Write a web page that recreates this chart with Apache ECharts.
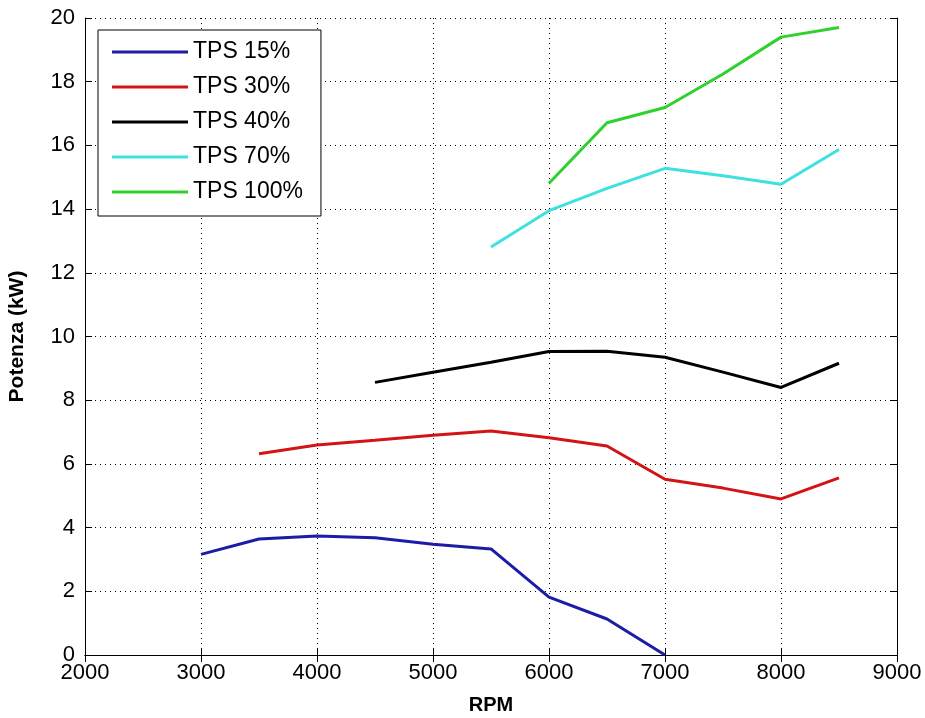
<!DOCTYPE html>
<html>
<head>
<meta charset="utf-8">
<script src="https://cdn.jsdelivr.net/npm/echarts@6/dist/echarts.min.js"></script>
<style>
  html, body { margin: 0; padding: 0; background: #fff; }
  #main { width: 925px; height: 718px; }
</style>
</head>
<body>
<div id="main"></div>
<script>
  // dati (RPM, kW)
  var tps15 = [[3000, 3.16], [3500, 3.64], [4000, 3.74], [4500, 3.68], [5000, 3.48], [5500, 3.33], [6000, 1.82], [6500, 1.13], [7000, 0]];
  var tps30 = [[3500, 6.32], [4000, 6.59], [4500, 6.74], [5000, 6.9], [5500, 7.03], [6000, 6.82], [6500, 6.56], [7000, 5.52], [7500, 5.24], [8000, 4.9], [8500, 5.56]];
  var tps40 = [[4500, 8.56], [5000, 8.88], [5500, 9.19], [6000, 9.53], [6500, 9.54], [7000, 9.35], [7500, 8.88], [8000, 8.4], [8500, 9.16]];
  var tps70 = [[5500, 12.81], [6000, 13.95], [6500, 14.65], [7000, 15.28], [7500, 15.05], [8000, 14.78], [8500, 15.87]];
  var tps100 = [[6000, 14.81], [6500, 16.71], [7000, 17.19], [7500, 18.24], [8000, 19.4], [8500, 19.7]];

  var nomi = ['TPS 15%', 'TPS 30%', 'TPS 40%', 'TPS 70%', 'TPS 100%'];
  var colori = ['#1c1ca6', '#d41414', '#000000', '#3fe0e0', '#2ed12e'];
  var dati = [tps15, tps30, tps40, tps70, tps100];

  var font = '"Liberation Sans", Arial, sans-serif';
  var myChart = echarts.init(document.getElementById('main'));

  // asse "cornice" senza etichette per avere i tick anche sopra e a destra
  function asseCornice(pos, min, max, interval) {
    return {
      type: 'value', position: pos, min: min, max: max, interval: interval,
      axisLine: { show: true, lineStyle: { color: '#000', width: 1 } },
      axisTick: { show: true, inside: true, length: 7, lineStyle: { color: '#000' } },
      axisLabel: { show: false },
      splitLine: { show: false }
    };
  }

  myChart.setOption({
    animation: false,
    backgroundColor: '#fff',
    grid: { left: 85, right: 28, top: 18, bottom: 63, outerBoundsMode: 'none' },
    legend: {
      data: nomi,
      orient: 'vertical',
      left: 98,
      top: 30,
      backgroundColor: '#fff',
      borderColor: '#000',
      borderWidth: 1,
      padding: [9, 18, 11, 14],
      itemWidth: 76,
      itemHeight: 3,
      itemGap: 9,
      icon: 'rect',
      textStyle: { fontFamily: font, fontSize: 23, color: '#000', lineHeight: 26 }
    },
    xAxis: [
      {
        type: 'value', min: 2000, max: 9000, interval: 1000,
        name: 'RPM', nameLocation: 'middle', nameGap: 40,
        nameTextStyle: { fontFamily: font, fontSize: 20, fontWeight: 'bold', color: '#000' },
        axisLine: { show: true, lineStyle: { color: '#000', width: 1 } },
        axisTick: { show: true, inside: true, length: 7, lineStyle: { color: '#000' } },
        axisLabel: { fontFamily: font, fontSize: 22, color: '#000', margin: 7, formatter: function (v) { return String(v); } },
        splitLine: { show: true, lineStyle: { color: '#000', type: [1, 4], width: 1 } }
      },
      asseCornice('top', 2000, 9000, 1000)
    ],
    yAxis: [
      {
        type: 'value', min: 0, max: 20, interval: 2,
        name: 'Potenza (kW)', nameLocation: 'middle', nameGap: 57, nameRotate: 90,
        nameTextStyle: { fontFamily: font, fontSize: 21, fontWeight: 'bold', color: '#000' },
        axisLine: { show: true, lineStyle: { color: '#000', width: 1 } },
        axisTick: { show: true, inside: true, length: 7, lineStyle: { color: '#000' } },
        axisLabel: { fontFamily: font, fontSize: 22, color: '#000', margin: 10 },
        splitLine: { show: true, lineStyle: { color: '#000', type: [1, 4], width: 1 } }
      },
      asseCornice('right', 0, 20, 2)
    ],
    series: dati.map(function (d, i) {
      return {
        name: nomi[i],
        type: 'line',
        xAxisIndex: 0,
        yAxisIndex: 0,
        data: d,
        showSymbol: false,
        symbol: 'none',
        color: colori[i],
        lineStyle: { color: colori[i], width: 3 }
      };
    })
  });
</script>
</body>
</html>
